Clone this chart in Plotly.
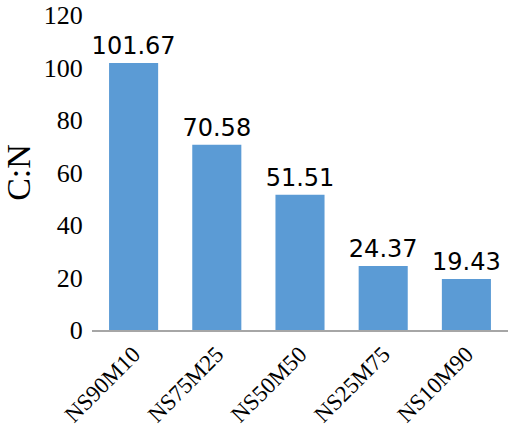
import plotly.graph_objects as go

categories = ["NS90M10", "NS75M25", "NS50M50", "NS25M75", "NS10M90"]
cn_ratio = [101.67, 70.58, 51.51, 24.37, 19.43]
y_ticks = [0, 20, 40, 60, 80, 100, 120]

serif = "Liberation Serif"

fig = go.Figure(
    go.Bar(
        x=categories,
        y=cn_ratio,
        marker=dict(color="#5B9BD5", line=dict(width=0)),
        text=[f"{v:.2f}" for v in cn_ratio],
        textposition="outside",
        constraintext="none",
        textfont=dict(family="DejaVu Sans", size=24, color="#000000"),
        cliponaxis=False,
    )
)

fig.update_layout(
    width=509,
    height=432,
    margin=dict(l=92, r=1, t=15, b=102, autoexpand=False),
    paper_bgcolor="white",
    plot_bgcolor="white",
    font=dict(family=serif, size=25, color="#000000"),
    bargap=0.41,
    showlegend=False,
    xaxis=dict(
        tickangle=-45,
        showline=True,
        linecolor="#A6A6A6",
        linewidth=1.5,
        showgrid=False,
        ticks="",
        automargin=False,
        tickfont=dict(family=serif, size=23, color="#000000"),
    ),
    yaxis=dict(
        range=[0, 120],
        tickvals=y_ticks,
        showgrid=False,
        zeroline=False,
        showline=False,
        ticks="outside",
        ticklen=3,
        tickcolor="white",
        automargin=False,
        tickfont=dict(family=serif, size=26, color="#000000"),
        title=dict(text="C:N", font=dict(family=serif, size=34, color="#000000"), standoff=8),
    ),
)

fig.write_html("out.html")
